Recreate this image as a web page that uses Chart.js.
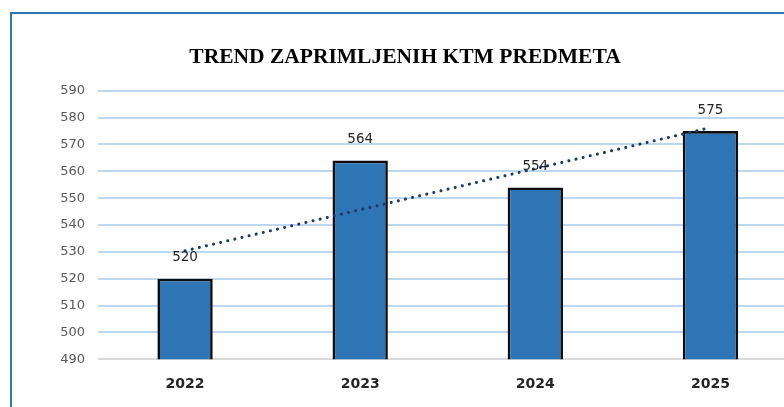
<!DOCTYPE html>
<html>
<head>
<meta charset="utf-8">
<script src="https://cdn.jsdelivr.net/npm/chart.js@4/dist/chart.umd.min.js"></script>
<style>
  html, body { margin: 0; padding: 0; background: #fff; overflow: hidden; width: 784px; height: 407px; }
  #frame {
    position: absolute; left: 10px; top: 12px;
    width: 800px; height: 420px;
    border-left: 2px solid #2E75B6; border-top: 2px solid #2E75B6;
  }
  #chart { position: absolute; left: 0; top: 0; }
</style>
</head>
<body>
<div id="frame">
  <canvas id="chart" width="786" height="400"></canvas>
</div>
<script>
const years = ['2022', '2023', '2024', '2025']
const cases = [520, 564, 554, 575]
// linear trend line
const trend = [530.4, 545.7, 561.0, 576.3]

const labelFont = '"DejaVu Sans", "Liberation Sans", sans-serif'

const valueLabels = {
  id: 'valueLabels',
  afterDatasetsDraw(chart) {
    const ctx = chart.ctx
    const meta = chart.getDatasetMeta(1)
    ctx.save()
    ctx.font = '13.5px ' + labelFont
    ctx.fillStyle = '#262626'
    ctx.textAlign = 'center'
    ctx.textBaseline = 'middle'
    meta.data.forEach((bar, i) => {
      ctx.fillText(String(cases[i]), bar.x, bar.y - 21)
    })
    ctx.restore()
  }
}

new Chart(document.getElementById('chart'), {
  data: {
    labels: years,
    datasets: [
      {
        type: 'line',
        label: 'Linear trend',
        data: trend,
        borderColor: '#203864',
        borderWidth: 3,
        borderDash: [0.1, 7.2],
        borderCapStyle: 'round',
        pointRadius: 0,
        fill: false,
        order: 0
      },
      {
        type: 'bar',
        label: 'Predmeti',
        data: cases,
        backgroundColor: '#2E75B6',
        borderColor: '#0D0D0D',
        borderWidth: 2.6,
        borderSkipped: 'bottom',
        categoryPercentage: 1,
        barPercentage: 0.316,
        order: 1
      }
    ]
  },
  options: {
    responsive: false,
    animation: false,
    layout: { padding: { top: 0, right: 0, bottom: 4, left: 0 } },
    plugins: {
      legend: { display: false },
      tooltip: { enabled: false },
      title: {
        display: true,
        text: 'TREND ZAPRIMLJENIH KTM PREDMETA',
        color: '#000',
        font: { family: '"Liberation Serif", "Times New Roman", serif', size: 21.5, weight: 'bold' },
        padding: { top: 31, bottom: 20 }
      }
    },
    scales: {
      x: {
        grid: { display: false, drawTicks: false },
        border: { display: false },
        ticks: {
          color: '#262626',
          padding: 17,
          font: { family: labelFont, size: 14, weight: 'bold' }
        }
      },
      y: {
        min: 490,
        max: 590,
        afterFit(scale) { scale.width = 85.5 },
        grid: {
          drawTicks: false,
          lineWidth: 2,
          color: (c) => c.tick && c.tick.value === 490 ? '#D9D9D9' : '#BDD7EE'
        },
        border: { display: false },
        ticks: {
          stepSize: 10,
          padding: 12.5,
          color: '#595959',
          font: { family: labelFont, size: 13 }
        }
      }
    }
  },
  plugins: [valueLabels]
})
</script>
</body>
</html>
